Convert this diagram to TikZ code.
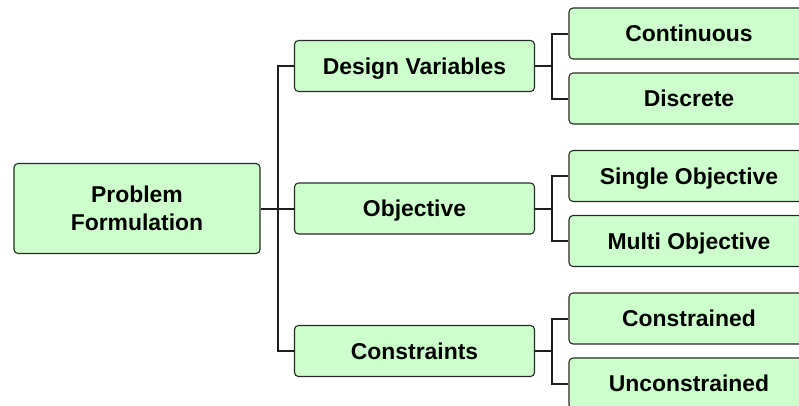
\documentclass[tikz,border=0pt]{standalone}
\usepackage{fontspec}
\setmainfont{Liberation Sans}
\begin{document}
\begin{tikzpicture}[x=1bp,y=-1bp,
  box/.style={draw={rgb,255:red,40;green,40;blue,40}, line width=1.1bp,
    fill={rgb,255:red,204;green,255;blue,204}, rounded corners=4bp,
    minimum width=240bp, minimum height=51bp, inner sep=0pt,
    font=\fontsize{23}{28}\selectfont\bfseries},
  single/.style={box, text height=16.5bp, text depth=0bp},
  link/.style={draw={rgb,255:red,30;green,30;blue,30}, line width=2bp}]
\path[use as bounding box, clip] (0,0) rectangle (799,405);

% root
\node[box, align=center, minimum width=246bp, minimum height=90bp] (root) at (137,208.5) {Problem\\Formulation};

% second level
\node[single] (dv)  at (414.5,66)    {Design Variables};
\node[single] (obj) at (414.5,208.5) {Objective};
\node[single] (con) at (414.5,351)   {Constraints};

% leaves
\node[single] (cont)  at (689,33.5)  {Continuous};
\node[single] (disc)  at (689,98.5)  {Discrete};
\node[single] (sing)  at (689,176)   {Single Objective};
\node[single] (multi) at (689,241)   {Multi Objective};
\node[single] (cstr)  at (689,318.5) {Constrained};
\node[single] (ucstr) at (689,383.5) {Unconstrained};

% root connectors
\coordinate (trunk) at (278,208.5);
\draw[link] (root.east) -- (obj.west);
\draw[link] (dv.west) -| (trunk);
\draw[link] (con.west) -| (trunk);

% leaf connectors
\foreach \p/\a/\b in {dv/cont/disc, obj/sing/multi, con/cstr/ucstr}{
  \coordinate (j-\p) at ([xshift=17bp]\p.east);
  \draw[link] (\p.east) -- (j-\p);
  \draw[link] (\a.west) -| (j-\p);
  \draw[link] (\b.west) -| (j-\p);
}
\end{tikzpicture}
\end{document}
